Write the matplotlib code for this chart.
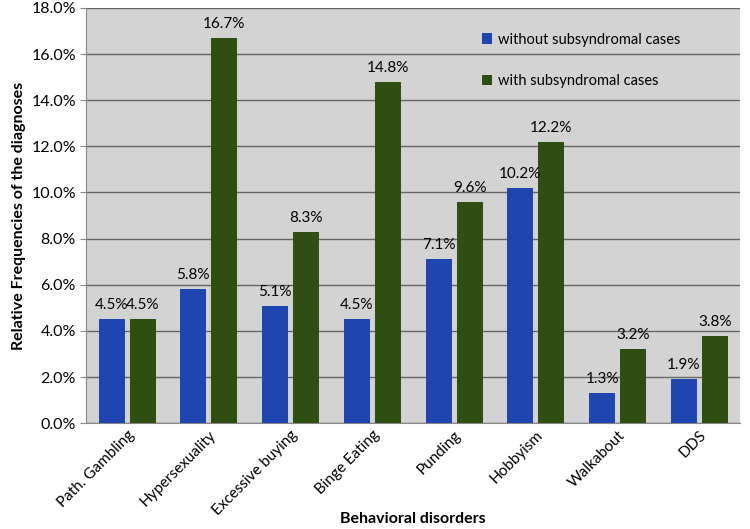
import numpy as np
import matplotlib.pyplot as plt
from matplotlib.ticker import FuncFormatter

plt.rcParams['font.family'] = ['Lato', 'DejaVu Sans']

# data
disorders = ['Path. Gambling', 'Hypersexuality', 'Excessive buying', 'Binge Eating',
             'Punding', 'Hobbyism', 'Walkabout', 'DDS']
without_sub = [4.5, 5.8, 5.1, 4.5, 7.1, 10.2, 1.3, 1.9]
with_sub = [4.5, 16.7, 8.3, 14.8, 9.6, 12.2, 3.2, 3.8]

blue = '#1f46b0'
green = '#2f4f12'

fig = plt.figure(figsize=(7.5, 5.29), dpi=100)
ax = fig.add_axes([0.115, 0.2, 0.872, 0.785])
ax.set_facecolor('#d3d3d3')

x = np.arange(len(disorders))
w = 0.32
b1 = ax.bar(x - 0.19, without_sub, w, color=blue, label='without subsyndromal cases', zorder=3)
b2 = ax.bar(x + 0.19, with_sub, w, color=green, label='with subsyndromal cases', zorder=3)

for bars, vals in ((b1, without_sub), (b2, with_sub)):
    for r, v in zip(bars, vals):
        ax.text(r.get_x() + r.get_width() / 2, v + 0.3, f'{v:.1f}%',
                ha='center', va='bottom', fontsize=11, zorder=4)

ax.set_ylim(0, 18)
ax.set_xlim(-0.5, len(disorders) - 0.5)
ax.set_yticks(np.arange(0, 18.1, 2))
ax.yaxis.set_major_formatter(FuncFormatter(lambda v, p: f'{v:.1f}%'))
ax.yaxis.grid(True, color='#666666', linewidth=1, zorder=0)
ax.tick_params(axis='y', length=4, color='#888888', labelsize=11.5)
ax.tick_params(axis='x', length=0, labelsize=11)
ax.set_xticks(x)
ax.set_xticklabels(disorders, rotation=45, ha='right', rotation_mode='anchor')

for s in ('top', 'right'):
    ax.spines[s].set_visible(False)
ax.spines['left'].set_color('#888888')
ax.spines['bottom'].set_color('#888888')

ax.set_ylabel('Relative Frequencies of the diagnoses', fontsize=11.5, fontweight='bold')
fig.text(0.551, 0.006, 'Behavioral disorders', ha='center', va='bottom',
         fontsize=11.5, fontweight='bold')

ax.legend(loc='upper left', bbox_to_anchor=(0.585, 0.972), frameon=False,
          fontsize=10.5, handlelength=0.7, handleheight=0.7, handletextpad=0.4,
          labelspacing=1.9)

fig.savefig('out.png', dpi=100)
